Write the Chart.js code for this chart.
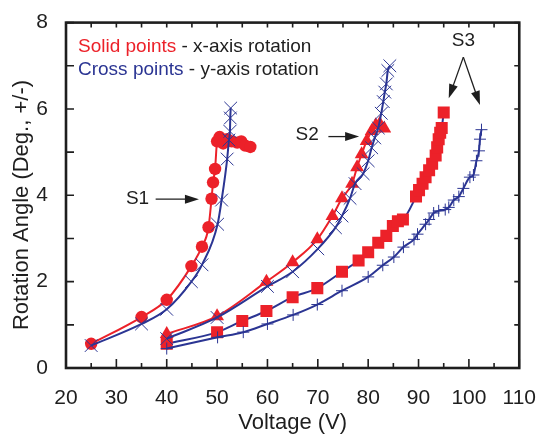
<!DOCTYPE html>
<html>
<head>
<meta charset="utf-8">
<script src="https://cdn.jsdelivr.net/npm/chart.js@4.4.1/dist/chart.umd.min.js"></script>
<style>
  html, body { margin: 0; padding: 0; background: #fff; }
  #wrap { width: 546px; height: 441px; }
</style>
</head>
<body>
<div id="wrap"><canvas id="chart" width="546" height="441"></canvas></div>
<script>
// values: voltage (V) -> rotation angle (deg)
// S1, x-axis rotation (solid circles)
const s1xVolt  = [25, 35, 40, 44.9, 47.0, 48.3, 48.9, 49.2, 49.6, 50.0, 50.5, 51.2, 52.0, 52.9, 54.0, 54.8, 55.6, 56.6];
const s1xAngle = [0.56, 1.18, 1.58, 2.36, 2.81, 3.26, 3.92, 4.30, 4.61, 5.25, 5.35, 5.20, 5.30, 5.25, 5.22, 5.25, 5.15, 5.12];
// S1, y-axis rotation (crosses)
const s1yVolt  = [25, 35, 40, 44.9, 47.0, 50.1, 50.9, 52.0, 52.35, 52.55, 52.62, 52.7];
const s1yAngle = [0.52, 1.02, 1.36, 2.0, 2.39, 3.33, 3.89, 4.84, 5.28, 5.48, 5.79, 6.02];
// S2, x-axis rotation (solid triangles)
const s2xVolt  = [40, 50, 59.8, 65, 69.9, 72.9, 74.8, 76.8, 77.8, 78.7, 79.7, 80.7, 81.5, 82.3, 83.2];
const s2xAngle = [0.79, 1.2, 2.0, 2.45, 2.98, 3.52, 3.93, 4.27, 4.65, 4.95, 5.26, 5.49, 5.62, 5.66, 5.55];
// S2, y-axis rotation (crosses)
const s2yVolt  = [40, 50, 60, 65, 70, 73.5, 74.8, 76.4, 77.4, 79.0, 80.0, 80.7, 81.3, 82.0, 82.6, 83.0, 83.3, 83.6, 83.9, 84.3];
const s2yAngle = [0.68, 1.17, 1.89, 2.23, 2.76, 3.25, 3.52, 3.93, 4.27, 4.5, 4.8, 5.1, 5.33, 5.56, 5.9, 6.17, 6.39, 6.58, 6.89, 7.0];
// S3, x-axis rotation (solid squares)
const s3xVolt  = [40, 50, 55, 59.8, 65, 69.9, 74.8, 78.1, 80.0, 82.0, 83.6, 84.9, 85.9, 86.9, 89.5, 90.1, 90.8, 91.4, 92.1, 92.7, 93.4, 93.7, 94.0, 94.3, 94.6, 95.0];
const s3xAngle = [0.56, 0.83, 1.09, 1.32, 1.64, 1.85, 2.23, 2.49, 2.68, 2.9, 3.06, 3.29, 3.4, 3.44, 3.97, 4.12, 4.27, 4.42, 4.58, 4.73, 4.92, 5.11, 5.3, 5.45, 5.56, 5.92];
// S3, y-axis rotation (pluses)
const s3yVolt  = [40, 50.1, 55.2, 60, 65.1, 69.9, 74.8, 80.0, 82.9, 85.1, 87.0, 89.1, 89.8, 91.4, 92.1, 93.0, 94.0, 95.3, 96.0, 97.0, 98.0, 98.9, 100.2, 100.9, 101.5, 102.0, 102.2, 102.5];
const s3yAngle = [0.45, 0.71, 0.83, 1.02, 1.23, 1.47, 1.79, 2.11, 2.38, 2.57, 2.8, 2.98, 3.1, 3.33, 3.44, 3.59, 3.64, 3.67, 3.72, 3.89, 3.97, 4.16, 4.42, 4.47, 4.8, 5.03, 5.3, 5.52];

const xTicks = [20, 30, 40, 50, 60, 70, 80, 90, 100, 110];
const yTicks = [0, 2, 4, 6, 8];

const RED = "#ec2129";
const BLUE = "#2b3593";
const INK = "#1e1e1e";
const FONT = '"Liberation Sans", Arial, Helvetica, sans-serif';

const toPts = (xs, ys) => xs.map((x, i) => ({ x: x, y: ys[i] }));

// line + marker style shared by every series
const series = (xs, ys, lineColor, markColor, style, radius, width) => ({
  data: toPts(xs, ys),
  showLine: true,
  borderColor: lineColor,
  borderWidth: 2,
  cubicInterpolationMode: "monotone",
  pointStyle: style,
  pointRadius: radius,
  pointBackgroundColor: markColor,
  pointBorderColor: markColor,
  pointBorderWidth: width,
});

// arrow helper for the S1/S2/S3 labels
function arrow(ctx, x1, y1, x2, y2) {
  const ang = Math.atan2(y2 - y1, x2 - x1);
  const len = 14, half = 4.5;
  ctx.beginPath();
  ctx.moveTo(x1, y1);
  ctx.lineTo(x2 - Math.cos(ang) * len * 0.8, y2 - Math.sin(ang) * len * 0.8);
  ctx.stroke();
  ctx.beginPath();
  ctx.moveTo(x2, y2);
  ctx.lineTo(x2 - Math.cos(ang) * len - Math.sin(ang) * half, y2 - Math.sin(ang) * len + Math.cos(ang) * half);
  ctx.lineTo(x2 - Math.cos(ang) * len + Math.sin(ang) * half, y2 - Math.sin(ang) * len - Math.cos(ang) * half);
  ctx.closePath();
  ctx.fill();
}

const decor = {
  id: "decor",
  afterDatasetsDraw(chart) {
    const { ctx, chartArea: a, scales } = chart;
    const sx = scales.x, sy = scales.y;
    ctx.save();

    // frame and inward ticks on all four sides
    ctx.strokeStyle = INK;
    ctx.lineWidth = 1.6;
    ctx.beginPath();
    for (let v = xTicks[0]; v <= xTicks[xTicks.length - 1]; v += 5) {
      const px = sx.getPixelForValue(v);
      const major = xTicks.includes(v);
      ctx.moveTo(px, a.bottom); ctx.lineTo(px, a.bottom - (major ? 9 : 5));
      ctx.moveTo(px, a.top); ctx.lineTo(px, a.top + 5);
    }
    for (let v = yTicks[0]; v <= yTicks[yTicks.length - 1]; v += 1) {
      const py = sy.getPixelForValue(v);
      ctx.moveTo(a.left, py); ctx.lineTo(a.left + 8, py);
      ctx.moveTo(a.right, py); ctx.lineTo(a.right - 5, py);
    }
    ctx.stroke();
    ctx.lineWidth = 2.6;
    ctx.strokeRect(a.left, a.top, a.right - a.left, a.bottom - a.top);

    // axis titles
    ctx.fillStyle = INK;
    ctx.font = "22px " + FONT;
    ctx.textAlign = "center";
    ctx.textBaseline = "middle";
    ctx.fillText("Voltage (V)", (a.left + a.right) / 2, 423);
    ctx.save();
    ctx.translate(22, 205);
    ctx.rotate(-Math.PI / 2);
    ctx.fillText("Rotation Angle (Deg., +/-)", 0, 0);
    ctx.restore();

    // two-colour legend text
    ctx.font = "19px " + FONT;
    ctx.textAlign = "left";
    ctx.textBaseline = "alphabetic";
    const lines = [["Solid points", RED, " - x-axis rotation", 52], ["Cross points", BLUE, " - y-axis rotation", 75]];
    lines.forEach(([head, col, tail, base]) => {
      ctx.fillStyle = col;
      ctx.fillText(head, 78, base);
      const w = ctx.measureText(head).width;
      ctx.fillStyle = INK;
      ctx.fillText(tail, 78 + w, base);
    });

    // sample labels with arrows (placed in data units)
    ctx.textAlign = "center";
    ctx.textBaseline = "middle";
    ctx.fillStyle = INK;
    ctx.strokeStyle = INK;
    ctx.lineWidth = 1.3;
    const P = (v, d) => [sx.getPixelForValue(v), sy.getPixelForValue(d)];
    let t = P(34.2, 3.93);
    ctx.fillText("S1", t[0], t[1]);
    arrow(ctx, ...P(37.8, 3.91), ...P(46.4, 3.91));
    t = P(67.9, 5.41);
    ctx.fillText("S2", t[0], t[1]);
    arrow(ctx, ...P(72.1, 5.36), ...P(78.2, 5.36));
    t = P(98.9, 7.57);
    ctx.fillText("S3", t[0], t[1]);
    arrow(ctx, ...P(98.9, 7.2), ...P(96.0, 6.25));
    arrow(ctx, ...P(98.9, 7.2), ...P(102.2, 6.09));

    ctx.restore();
  },
};

new Chart(document.getElementById("chart"), {
  type: "scatter",
  data: {
    datasets: [
      series(s3yVolt, s3yAngle, BLUE, BLUE, "cross", 6, 1),
      series(s2yVolt, s2yAngle, BLUE, BLUE, "crossRot", 9, 1),
      series(s1yVolt, s1yAngle, BLUE, BLUE, "crossRot", 9, 1),
      series(s3xVolt, s3xAngle, BLUE, RED, "rect", 8.5, 0),
      series(s2xVolt, s2xAngle, RED, RED, "triangle", 8, 0),
      series(s1xVolt, s1xAngle, RED, RED, "circle", 6.2, 0),
    ],
  },
  options: {
    responsive: false,
    animation: false,
    events: [],
    layout: { padding: { left: 0, right: 19, top: 16, bottom: 0 } },
    scales: {
      x: {
        type: "linear",
        min: 20,
        max: 110,
        afterBuildTicks: (s) => { s.ticks = xTicks.map((v) => ({ value: v })); },
        afterFit: (s) => { s.height = 73; },
        ticks: { color: INK, padding: 10, maxRotation: 0, font: { family: FONT, size: 21 } },
        grid: { display: false },
        border: { display: false },
      },
      y: {
        min: 0,
        max: 8,
        afterBuildTicks: (s) => { s.ticks = yTicks.map((v) => ({ value: v })); },
        afterFit: (s) => { s.width = 66; },
        ticks: { color: INK, padding: 10, font: { family: FONT, size: 21 } },
        grid: { display: false },
        border: { display: false },
      },
    },
    plugins: {
      legend: { display: false },
      tooltip: { enabled: false },
    },
  },
  plugins: [decor],
});
</script>
</body>
</html>
